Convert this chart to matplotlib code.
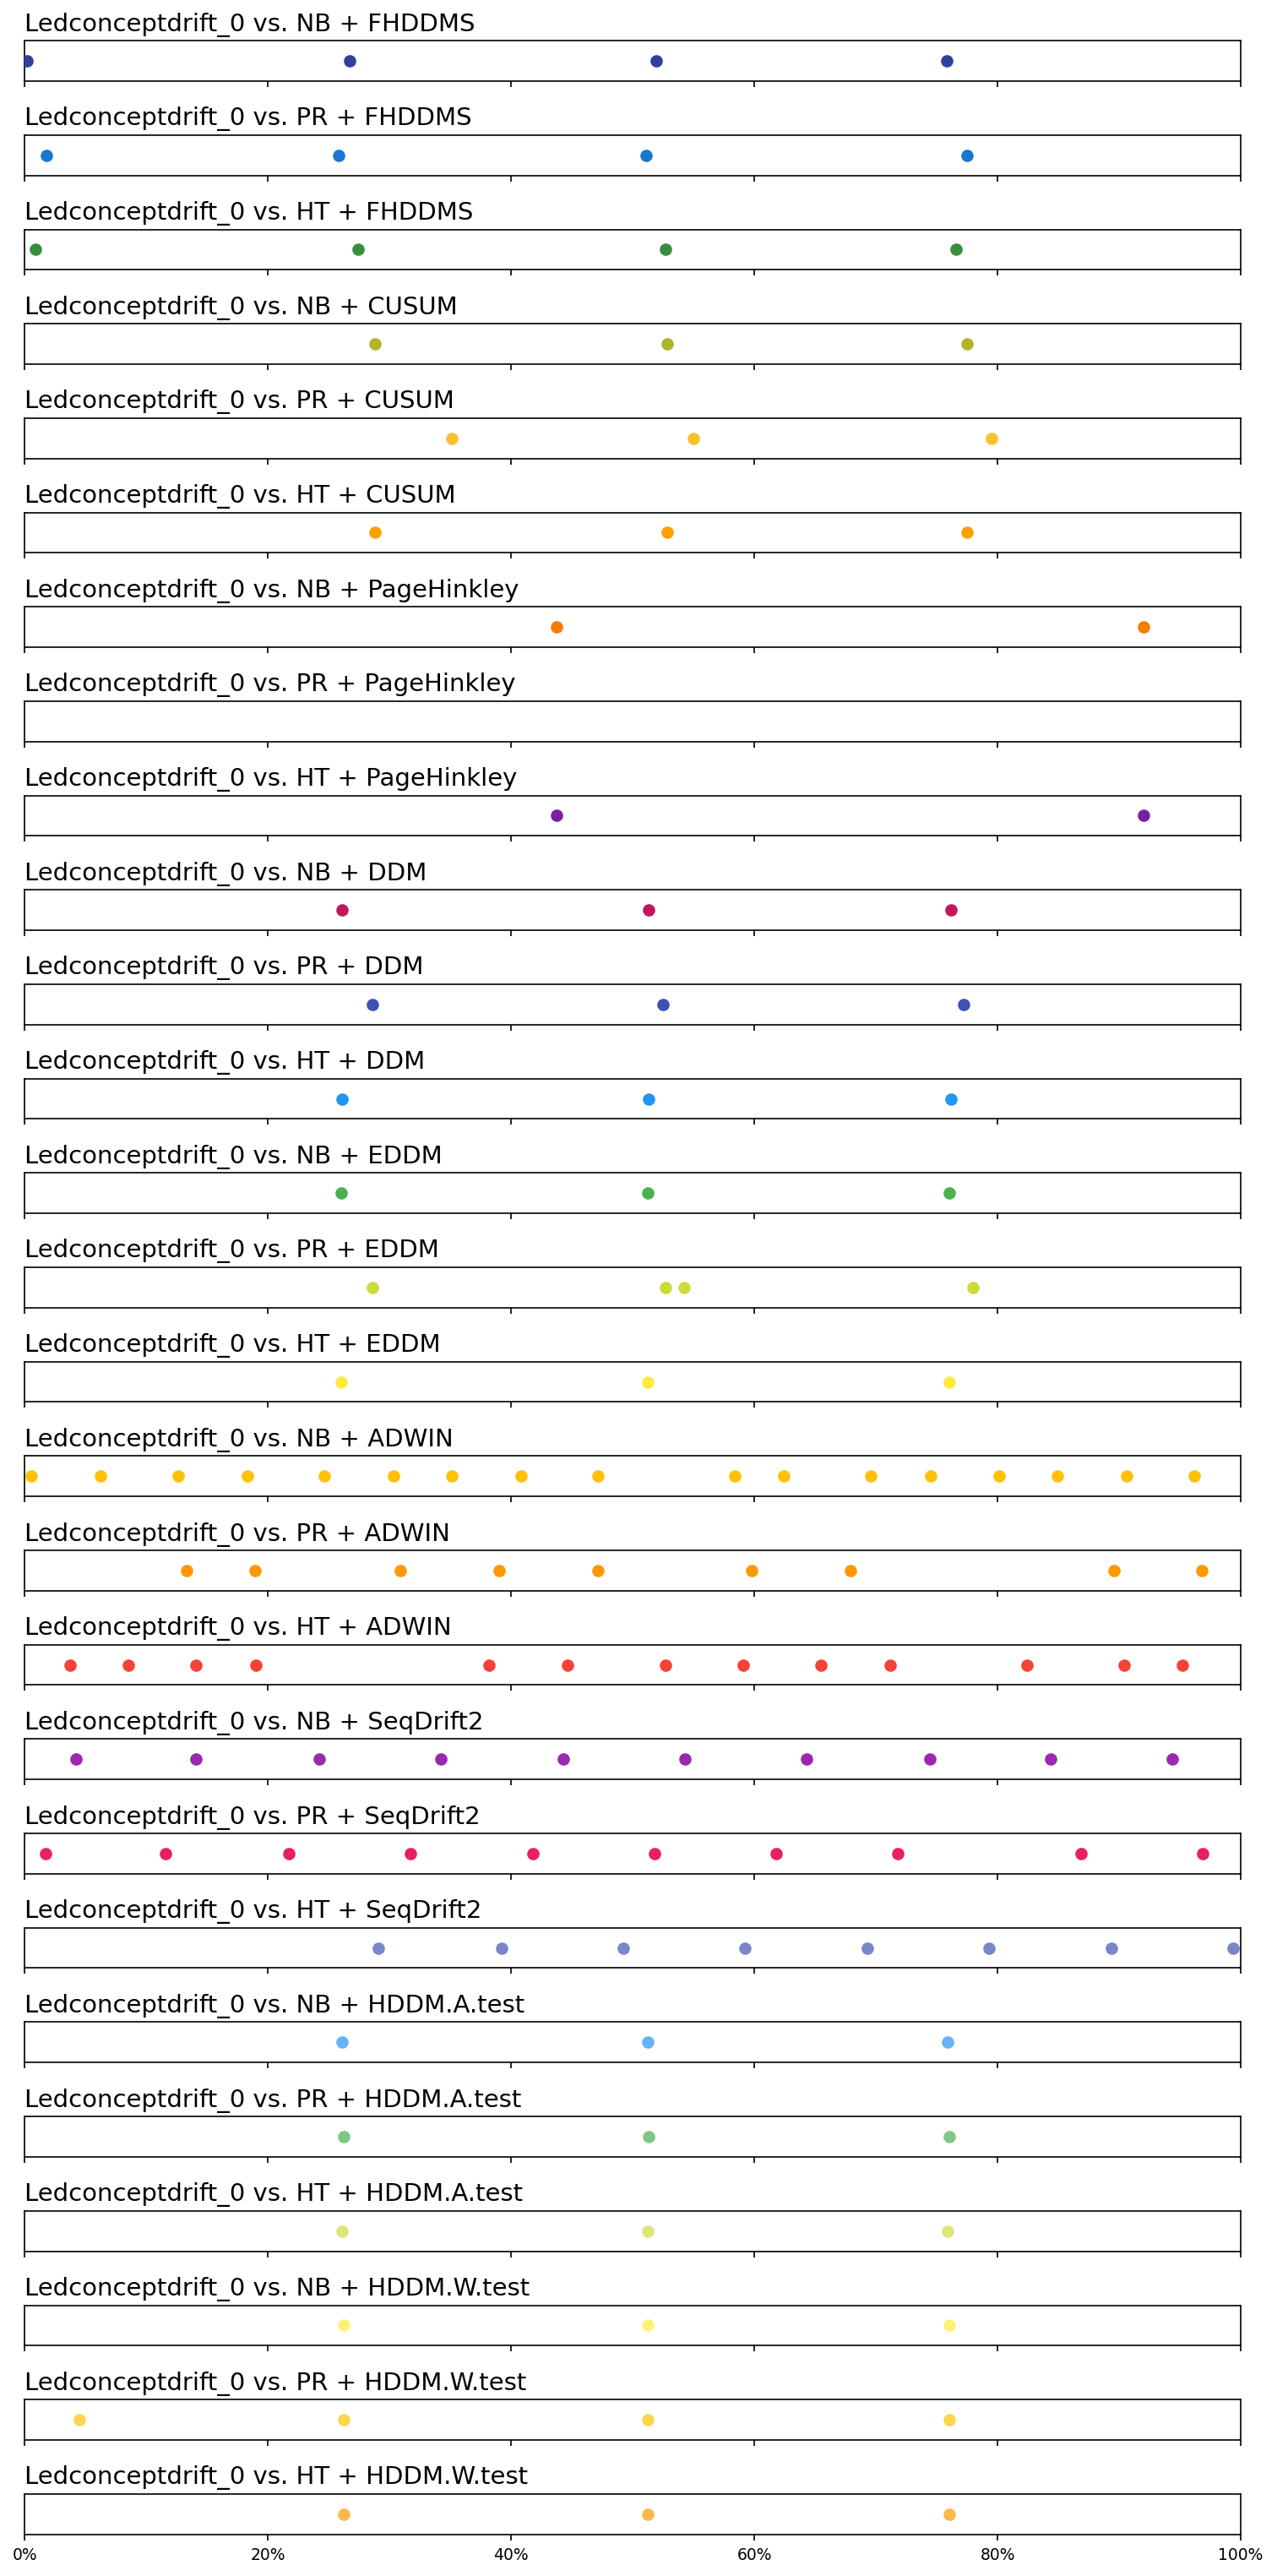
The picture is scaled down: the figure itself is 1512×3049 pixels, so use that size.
import matplotlib
matplotlib.use("Agg")
import matplotlib.pyplot as plt
from matplotlib.ticker import PercentFormatter

dataset = "Ledconceptdrift_0"
learners = ["NB", "PR", "HT"]
detectors = ["FHDDMS", "CUSUM", "PageHinkley", "DDM", "EDDM", "ADWIN",
             "SeqDrift2", "HDDM.A.test", "HDDM.W.test"]

# detection positions (% of stream)
fhddms_nb = [0.2, 26.7, 51.9, 75.8]
fhddms_pr = [1.8, 25.8, 51.1, 77.5]
fhddms_ht = [0.9, 27.4, 52.7, 76.6]
cusum_nb = [28.8, 52.8, 77.5]
cusum_pr = [35.1, 55.0, 79.5]
cusum_ht = [28.8, 52.8, 77.5]
ph_nb = [43.7, 92.0]
ph_pr = []
ph_ht = [43.7, 92.0]
ddm_nb = [26.1, 51.3, 76.2]
ddm_pr = [28.6, 52.5, 77.2]
ddm_ht = [26.1, 51.3, 76.2]
eddm_nb = [26.0, 51.2, 76.0]
eddm_pr = [28.6, 52.7, 54.2, 78.0]
eddm_ht = [26.0, 51.2, 76.0]
adwin_nb = [0.5, 6.2, 12.6, 18.3, 24.6, 30.3, 35.1, 40.8, 47.1, 58.4, 62.4,
            69.6, 74.5, 80.1, 84.9, 90.6, 96.2]
adwin_pr = [13.3, 18.9, 30.9, 39.0, 47.1, 59.8, 67.9, 89.6, 96.8]
adwin_ht = [3.7, 8.5, 14.1, 19.0, 38.2, 44.6, 52.7, 59.1, 65.5, 71.2, 82.4,
            90.4, 95.2]
seq_nb = [4.2, 14.1, 24.2, 34.2, 44.3, 54.3, 64.3, 74.4, 84.4, 94.4]
seq_pr = [1.7, 11.6, 21.7, 31.7, 41.8, 51.8, 61.8, 71.8, 86.9, 96.9]
seq_ht = [29.1, 39.2, 49.2, 59.2, 69.3, 79.3, 89.4, 99.4]
hddma_nb = [26.1, 51.2, 75.9]
hddma_pr = [26.2, 51.3, 76.0]
hddma_ht = [26.1, 51.2, 75.9]
hddmw_nb = [26.2, 51.2, 76.0]
hddmw_pr = [4.5, 26.2, 51.2, 76.0]
hddmw_ht = [26.2, 51.2, 76.0]

series = [fhddms_nb, fhddms_pr, fhddms_ht, cusum_nb, cusum_pr, cusum_ht,
          ph_nb, ph_pr, ph_ht, ddm_nb, ddm_pr, ddm_ht, eddm_nb, eddm_pr, eddm_ht,
          adwin_nb, adwin_pr, adwin_ht, seq_nb, seq_pr, seq_ht,
          hddma_nb, hddma_pr, hddma_ht, hddmw_nb, hddmw_pr, hddmw_ht]

colors = ["#303F9F", "#1976D2", "#388E3C", "#AFB42B", "#FBC02D", "#FFA000",
          "#F57C00", "#D32F2F", "#7B1FA2", "#C2185B",
          "#3F51B5", "#2196F3", "#4CAF50", "#CDDC39", "#FFEB3B", "#FFC107",
          "#FF9800", "#F44336", "#9C27B0", "#E91E63",
          "#7986CB", "#64B5F6", "#81C784", "#DCE775", "#FFF176", "#FFD54F",
          "#FFB74D"]

xticks = [0, 20, 40, 60, 80, 100]

titles = [f"{dataset} vs. {l} + {d}" for d in detectors for l in learners]

fig, axes = plt.subplots(len(titles), 1, figsize=(10.08, 20.333), dpi=150,
                         sharex=True)
fig.subplots_adjust(left=0.0195, right=0.9716, top=0.9839, bottom=0.0162,
                    hspace=1.342)

for ax, title, vals, c in zip(axes, titles, series, colors):
    ax.scatter(vals, [0] * len(vals), color=c, s=36, zorder=3)
    ax.set_xlim(0, 100)
    ax.set_ylim(-1, 1)
    ax.set_yticks([])
    ax.set_xticks(xticks)
    ax.xaxis.set_major_formatter(PercentFormatter(xmax=100, decimals=0))
    ax.tick_params(axis="x", labelsize=9)
    ax.set_title(title, loc="left", fontsize=14)

fig.savefig("out.png", dpi=150)
